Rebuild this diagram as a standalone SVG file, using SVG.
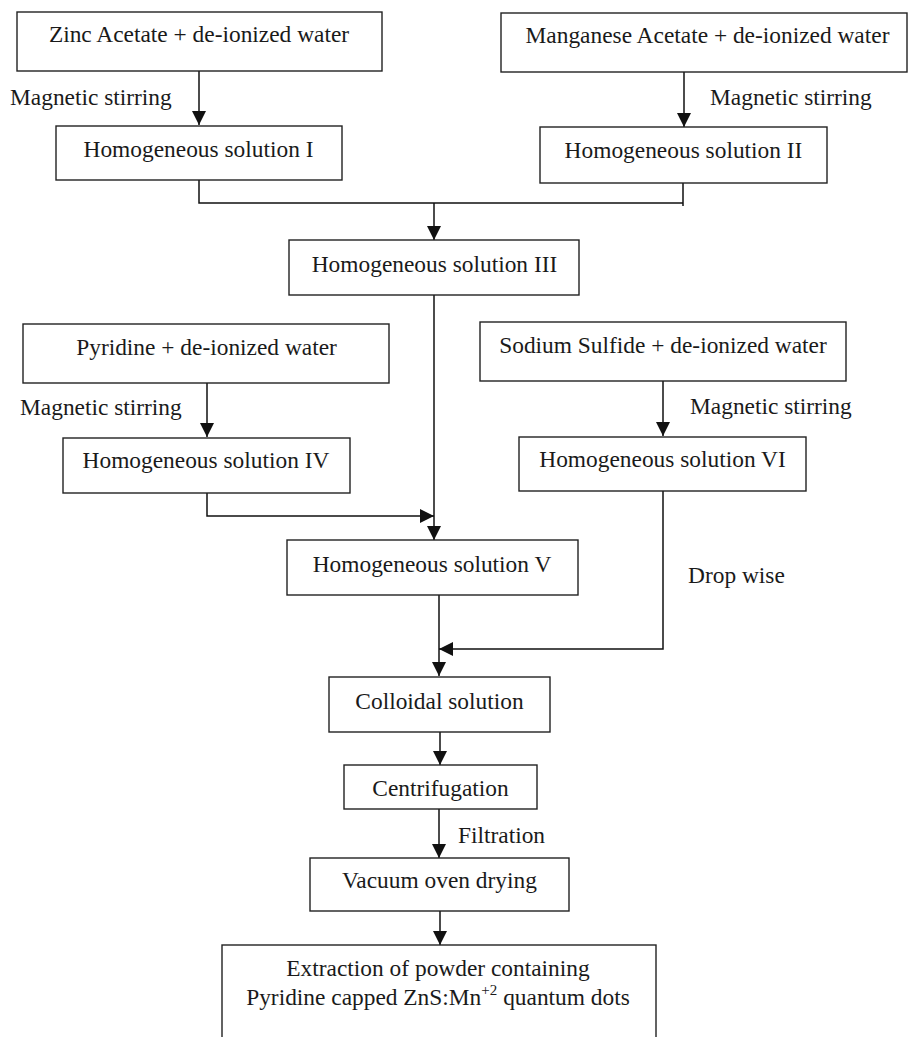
<svg xmlns="http://www.w3.org/2000/svg" width="909" height="1037" viewBox="0 0 909 1037">
<defs>
<marker id="ah" viewBox="0 0 14 14" refX="14" refY="7" markerWidth="14" markerHeight="14" markerUnits="userSpaceOnUse" orient="auto">
<path d="M0,0 L14,7 L0,14 Z" fill="#111"/>
</marker>
<style>
rect.box{fill:#fff;stroke:#222;stroke-width:1.4}
text{font-family:"Liberation Serif","Times New Roman",serif;font-size:23.4px;fill:#1a1a1a}
text.c{text-anchor:middle}
.con{fill:none;stroke:#111;stroke-width:1.5}
</style>
</defs>
<rect width="909" height="1037" fill="#fff"/>
<g id="connectors">
<path class="con" d="M199,71 V125" marker-end="url(#ah)"/>
<path class="con" d="M684,72 V127" marker-end="url(#ah)"/>
<path class="con" d="M199,180 V203 H683 M683,183 V206"/>
<path class="con" d="M434,203 V240" marker-end="url(#ah)"/>
<path class="con" d="M434,295 V540" marker-end="url(#ah)"/>
<path class="con" d="M207,383 V437" marker-end="url(#ah)"/>
<path class="con" d="M207,493 V516 H434" marker-end="url(#ah)"/>
<path class="con" d="M663,381 V436" marker-end="url(#ah)"/>
<path class="con" d="M663,491 V649 H439" marker-end="url(#ah)"/>
<path class="con" d="M439,595 V676" marker-end="url(#ah)"/>
<path class="con" d="M440,732 V765" marker-end="url(#ah)"/>
<path class="con" d="M439,809 V858" marker-end="url(#ah)"/>
<path class="con" d="M440,911 V945" marker-end="url(#ah)"/>
</g>
<g id="zinc"><rect class="box" x="17" y="12" width="365" height="59"/><text class="c" x="199" y="42">Zinc Acetate + de-ionized water</text></g>
<g id="manganese"><rect class="box" x="501" y="13" width="406" height="59"/><text class="c" x="707.5" y="43">Manganese Acetate + de-ionized water</text></g>
<g id="label-ms1"><text x="10" y="105">Magnetic stirring</text></g>
<g id="label-ms2"><text x="710" y="105">Magnetic stirring</text></g>
<g id="sol1"><rect class="box" x="56" y="126" width="286" height="54"/><text class="c" x="198.5" y="157">Homogeneous solution I</text></g>
<g id="sol2"><rect class="box" x="540" y="127" width="287" height="56"/><text class="c" x="683.5" y="158">Homogeneous solution II</text></g>
<g id="sol3"><rect class="box" x="289" y="240" width="290" height="55"/><text class="c" x="434.5" y="272">Homogeneous solution III</text></g>
<g id="pyridine"><rect class="box" x="23" y="324" width="366" height="59"/><text class="c" x="206.5" y="355">Pyridine + de-ionized water</text></g>
<g id="sodium"><rect class="box" x="480" y="322" width="366" height="59"/><text class="c" x="663" y="353">Sodium Sulfide + de-ionized water</text></g>
<g id="label-ms3"><text x="20" y="415">Magnetic stirring</text></g>
<g id="label-ms4"><text x="690" y="414">Magnetic stirring</text></g>
<g id="sol4"><rect class="box" x="63" y="438" width="287" height="55"/><text class="c" x="206" y="468">Homogeneous solution IV</text></g>
<g id="sol6"><rect class="box" x="519" y="437" width="287" height="54"/><text class="c" x="662.5" y="467">Homogeneous solution VI</text></g>
<g id="sol5"><rect class="box" x="287" y="540" width="291" height="55"/><text class="c" x="432" y="572">Homogeneous solution V</text></g>
<g id="label-drop"><text x="688" y="583">Drop wise</text></g>
<g id="colloidal"><rect class="box" x="329" y="677" width="221" height="55"/><text class="c" x="439.5" y="709">Colloidal solution</text></g>
<g id="centrifugation"><rect class="box" x="344" y="765" width="193" height="44"/><text class="c" x="440.5" y="796">Centrifugation</text></g>
<g id="label-filtration"><text x="458" y="843">Filtration</text></g>
<g id="vacuum"><rect class="box" x="310" y="858" width="259" height="53"/><text class="c" x="439.5" y="888">Vacuum oven drying</text></g>
<g id="extraction"><rect class="box" x="222" y="945" width="434" height="100"/>
<text class="c" x="438" y="976">Extraction of powder containing</text>
<text class="c" x="438" y="1005">Pyridine capped ZnS:Mn<tspan font-size="15" dy="-10">+2</tspan><tspan dy="10"> quantum dots</tspan></text></g>
</svg>
